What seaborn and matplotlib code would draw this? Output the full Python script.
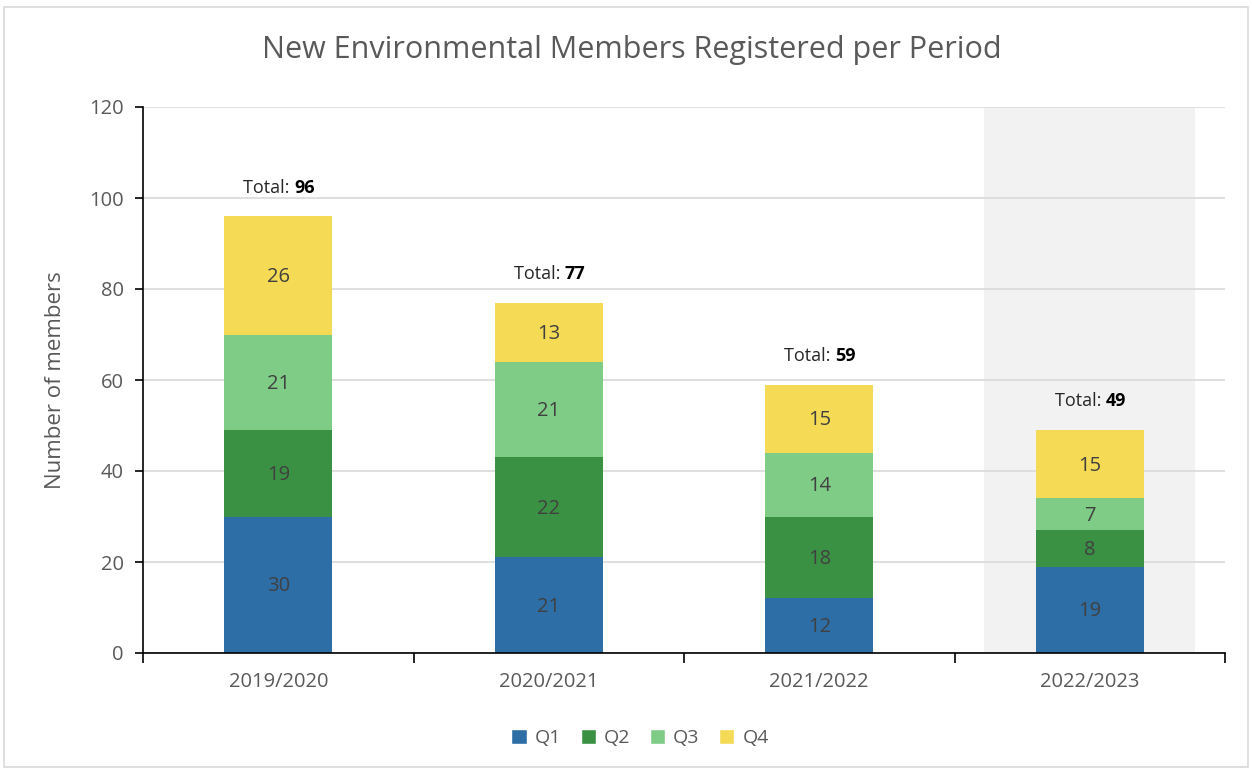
import matplotlib
matplotlib.use('Agg')
import matplotlib.pyplot as plt
from matplotlib.patches import Patch, Rectangle
import numpy as np
import pandas as pd
import seaborn as sns

# Data
periods = ["2019/2020", "2020/2021", "2021/2022", "2022/2023"]
quarters = ["Q1", "Q2", "Q3", "Q4"]
q1 = [30, 21, 12, 19]
q2 = [19, 22, 18, 8]
q3 = [21, 21, 14, 7]
q4 = [26, 13, 15, 15]
colors = ["#2D6EA6", "#3A9144", "#7FCC87", "#F4DA55"]

df = pd.DataFrame({"period": periods, "Q1": q1, "Q2": q2, "Q3": q3, "Q4": q4})
cum = df[quarters].cumsum(axis=1)
totals = cum["Q4"].values

sns.set_theme(style="white")
plt.rcParams['font.family'] = ['Open Sans', 'DejaVu Sans']

fig = plt.figure(figsize=(12.52, 7.69), dpi=100)
ax = fig.add_axes([143 / 1252, 1 - 653 / 769, 1082 / 1252, 546 / 769])

# highlighted period
ax.axvspan(2.61, 3.39, color="#F2F2F2", zorder=0.1, lw=0)

# stacked bars: draw cumulative heights from the top segment down
for q, c in zip(reversed(quarters), reversed(colors)):
    sns.barplot(x=df["period"], y=cum[q], color=c, width=0.4, ax=ax,
                saturation=1, zorder=2, linewidth=0)

# segment labels
for i in range(len(periods)):
    base = 0
    for q in quarters:
        v = df.loc[i, q]
        ax.text(i, base + v / 2 - 0.3, str(v), ha="center", va="center",
                fontsize=14.5, color="#404040", zorder=3)
        base += v
    ax.text(i + 0.06, totals[i] + 6.3, "Total: ", ha="right", va="center",
            fontsize=13, color="#262626", zorder=3)
    ax.text(i + 0.06, totals[i] + 6.3, str(totals[i]), ha="left", va="center",
            fontsize=13, color="black", fontweight="bold", zorder=3)

ax.set_xlim(-0.5, 3.5)
ax.set_ylim(0, 120)
ax.set_yticks(np.arange(0, 121, 20))
ax.yaxis.grid(True, color="#D9D9D9", lw=1.2)
ax.set_axisbelow(True)
ax.set_xticks(np.arange(-0.5, 3.6, 1), minor=True)
ax.tick_params(axis="x", which="major", length=0, labelsize=14.5,
               labelcolor="#595959", pad=14)
ax.tick_params(axis="x", which="minor", length=7, width=1.2, color="black",
               direction="out", bottom=True)
ax.tick_params(axis="y", length=6, width=1.2, color="black", left=True,
               labelsize=14.5, labelcolor="#595959", pad=8)
for s in ["top", "right"]:
    ax.spines[s].set_visible(False)
for s in ["left", "bottom"]:
    ax.spines[s].set_color("black")
    ax.spines[s].set_linewidth(1.2)

ax.set_xlabel("")
ax.set_ylabel("Number of members", fontsize=16, color="#595959")
ax.yaxis.set_label_coords(-0.071, 0.5)

fig.suptitle("New Environmental Members Registered per Period", x=632 / 1252,
             y=1 - 50 / 769, va="center", fontsize=22, color="#595959")

handles = [Patch(facecolor=c, label=q) for q, c in zip(quarters, colors)]
fig.legend(handles=handles, loc="center", bbox_to_anchor=(640 / 1252, 31 / 769),
           ncol=4, frameon=False, fontsize=14, handlelength=0.8,
           handleheight=0.8, columnspacing=1.0, handletextpad=0.4,
           labelcolor="#595959")

fig.patches.append(Rectangle((4 / 1252, 2 / 769), 1244 / 1252, 760 / 769,
                             transform=fig.transFigure, fill=False,
                             edgecolor="#D9D9D9", lw=1.2))

fig.savefig("out.png", dpi=100, facecolor="white")
